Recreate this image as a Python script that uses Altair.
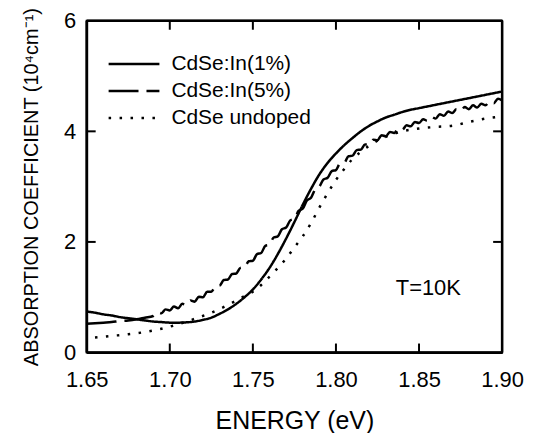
import altair as alt
import pandas as pd

# ---------------- data ----------------
series_names = ["CdSe:In(1%)", "CdSe:In(5%)", "CdSe undoped"]

e_1pct = [1.650, 1.655, 1.660, 1.665, 1.670, 1.675, 1.680, 1.685, 1.690, 1.695,
          1.700, 1.705, 1.710, 1.715, 1.720, 1.725, 1.730, 1.735, 1.740, 1.745,
          1.750, 1.755, 1.760, 1.765, 1.770, 1.775, 1.780, 1.785, 1.790, 1.795,
          1.800, 1.805, 1.810, 1.815, 1.820, 1.825, 1.830, 1.835, 1.840, 1.845,
          1.850, 1.855, 1.860, 1.865, 1.870, 1.875, 1.880, 1.885, 1.890, 1.895,
          1.900]
a_1pct = [0.74, 0.72, 0.69, 0.67, 0.64, 0.62, 0.60, 0.58, 0.56, 0.55,
          0.54, 0.54, 0.545, 0.56, 0.59, 0.63, 0.70, 0.78, 0.88, 1.00,
          1.14, 1.32, 1.53, 1.78, 2.06, 2.36, 2.67, 2.96, 3.22, 3.43,
          3.60, 3.75, 3.88, 4.00, 4.10, 4.18, 4.25, 4.30, 4.35, 4.39,
          4.42, 4.45, 4.48, 4.51, 4.54, 4.57, 4.60, 4.63, 4.66, 4.69,
          4.72]

e_5pct = [1.650, 1.655, 1.660, 1.665, 1.670, 1.675, 1.680, 1.685,
          1.690, 1.6925, 1.695, 1.6975, 1.700, 1.7025, 1.705, 1.7075, 1.710, 1.7125,
          1.715, 1.7175, 1.720, 1.7225, 1.725, 1.7275, 1.730, 1.7325, 1.735, 1.7375,
          1.740, 1.7425, 1.745, 1.7475, 1.750, 1.7525, 1.755, 1.7575, 1.760, 1.7625,
          1.765, 1.7675, 1.770, 1.7725, 1.775, 1.7775, 1.780, 1.7825, 1.785, 1.7875,
          1.790, 1.7925, 1.795, 1.7975, 1.800, 1.8025, 1.805, 1.8075, 1.810, 1.8125,
          1.815, 1.8175, 1.820, 1.8225, 1.825, 1.8275, 1.830, 1.8325, 1.835, 1.8375,
          1.840, 1.8425, 1.845, 1.8475, 1.850, 1.8525, 1.855, 1.8575, 1.860, 1.8625,
          1.865, 1.8675, 1.870, 1.8725, 1.875, 1.8775, 1.880, 1.8825, 1.885, 1.8875,
          1.890, 1.8925, 1.895, 1.8975, 1.900]
a_5pct = [0.52, 0.53, 0.54, 0.55, 0.57, 0.58, 0.60, 0.63,
          0.66, 0.73, 0.71, 0.78, 0.76, 0.83, 0.80, 0.88, 0.86, 0.94,
          0.92, 1.01, 1.00, 1.10, 1.10, 1.20, 1.21, 1.31, 1.32, 1.42,
          1.43, 1.53, 1.54, 1.65, 1.66, 1.78, 1.80, 1.93, 1.95, 2.08,
          2.10, 2.23, 2.26, 2.39, 2.42, 2.56, 2.60, 2.75, 2.80, 2.95,
          3.00, 3.13, 3.16, 3.28, 3.30, 3.42, 3.43, 3.55, 3.56, 3.66,
          3.67, 3.76, 3.76, 3.85, 3.84, 3.93, 3.91, 3.99, 3.97, 4.05,
          4.03, 4.11, 4.09, 4.17, 4.15, 4.22, 4.19, 4.26, 4.23, 4.31,
          4.28, 4.36, 4.33, 4.40, 4.37, 4.44, 4.40, 4.47, 4.43, 4.50,
          4.47, 4.54, 4.51, 4.59, 4.56]

e_undoped = [1.655, 1.665, 1.675, 1.685, 1.695, 1.705, 1.715, 1.725, 1.735, 1.745,
             1.750, 1.755, 1.760, 1.765, 1.770, 1.775, 1.780, 1.785, 1.790, 1.795,
             1.800, 1.805, 1.810, 1.815, 1.820, 1.830, 1.840, 1.850, 1.860, 1.870,
             1.880, 1.890, 1.900]
a_undoped = [0.27, 0.30, 0.33, 0.37, 0.43, 0.51, 0.61, 0.72, 0.86, 1.02,
             1.10, 1.22, 1.37, 1.53, 1.70, 1.90, 2.10, 2.34, 2.62, 2.88,
             3.12, 3.32, 3.50, 3.63, 3.74, 3.90, 4.00, 4.05, 4.08, 4.10,
             4.17, 4.23, 4.27]

x_ticks = [1.65, 1.70, 1.75, 1.80, 1.85, 1.90]
y_ticks = [0, 2, 4, 6]
x_inner_ticks = [1.70, 1.75, 1.80, 1.85]
y_inner_ticks = [2, 4]

annotation_text = "T=10K"
annotation_e = 1.8556
annotation_a = 1.17

# ---------------- build tables ----------------
rows = []
for name, es, as_ in [(series_names[0], e_1pct, a_1pct),
                      (series_names[1], e_5pct, a_5pct),
                      (series_names[2], e_undoped, a_undoped)]:
    for i, (e, a) in enumerate(zip(es, as_)):
        rows.append({"series": name, "E": e, "A": a, "order": i})
df = pd.DataFrame(rows)

X0, X1 = x_ticks[0], x_ticks[-1]
Y0, Y1 = y_ticks[0], y_ticks[-1]

xt_df = pd.DataFrame({"E": x_inner_ticks})
yt_df = pd.DataFrame({"A": y_inner_ticks})
hframe_df = pd.DataFrame({"Ea": [X0, X0], "Eb": [X1, X1], "A": [Y0, Y1]})
vframe_df = pd.DataFrame({"E": [X0, X1], "Aa": [Y0, Y0], "Ab": [Y1, Y1]})

FONT = "Liberation Sans"
W, H = 417, 333
TICK_A = 9 / H * (Y1 - Y0)   # 9 px inward tick, in data units
TICK_E = 9 / W * (X1 - X0)

x_scale = alt.Scale(domain=[X0, X1], nice=False, zero=False)
y_scale = alt.Scale(domain=[Y0, Y1], nice=False, zero=False)

lines = alt.Chart(df).mark_line(color="black", strokeWidth=2.5, strokeCap="butt",
                                interpolate="monotone").encode(
    x=alt.X("E:Q", scale=x_scale,
            axis=alt.Axis(title="ENERGY (eV)", values=x_ticks, format=".2f",
                          tickSize=0, domain=True, domainColor="black", domainWidth=2,
                          grid=False, labelFlush=False,
                          labelFontSize=22, labelPadding=17, labelColor="black",
                          titleFontSize=25, titleFontWeight="normal", titleColor="black",
                          titleBaseline="alphabetic", titleY=76)),
    y=alt.Y("A:Q", scale=y_scale,
            axis=alt.Axis(title="ABSORPTION COEFFICIENT (10\u2074cm\u207b\u00b9)",
                          values=y_ticks, format="d", labelFlush=False,
                          tickSize=0, domain=True, domainColor="black", domainWidth=2,
                          grid=False,
                          labelFontSize=22, labelPadding=11, labelColor="black",
                          titleFontSize=20, titleFontWeight="normal", titleColor="black",
                          titleBaseline="alphabetic", titleX=-49, titleAngle=270)),
    strokeDash=alt.StrokeDash(
        "series:N",
        scale=alt.Scale(domain=series_names, range=[[1, 0], [30, 8], [2.5, 8.5]]),
        legend=alt.Legend(title=None, orient="none", legendX=36, legendY=32,
                          symbolType="M-2.5,0L2.5,0", symbolSize=416,
                          symbolStrokeWidth=2.5, symbolStrokeColor="black",
                          labelFontSize=21, labelColor="black", labelOffset=26,
                          rowPadding=5, padding=0),
    ),
    detail="series:N",
    order="order:Q",
)

hframe = alt.Chart(hframe_df).mark_rule(color="black", strokeWidth=2.5).encode(
    x="Ea:Q", x2="Eb:Q", y="A:Q")
vframe = alt.Chart(vframe_df).mark_rule(color="black", strokeWidth=2.5).encode(
    x="E:Q", y="Aa:Q", y2="Ab:Q")

tick_bottom = alt.Chart(xt_df).mark_rule(color="black", strokeWidth=2).encode(
    x="E:Q", y=alt.datum(Y0), y2=alt.datum(Y0 + TICK_A))
tick_top = alt.Chart(xt_df).mark_rule(color="black", strokeWidth=2).encode(
    x="E:Q", y=alt.datum(Y1), y2=alt.datum(Y1 - TICK_A))
tick_left = alt.Chart(yt_df).mark_rule(color="black", strokeWidth=2).encode(
    y="A:Q", x=alt.datum(X0), x2=alt.datum(X0 + TICK_E))
tick_right = alt.Chart(yt_df).mark_rule(color="black", strokeWidth=2).encode(
    y="A:Q", x=alt.datum(X1), x2=alt.datum(X1 - TICK_E))

label = alt.Chart(pd.DataFrame({"t": [annotation_text]})).mark_text(
    fontSize=22, color="black", align="center", baseline="middle", font=FONT
).encode(x=alt.datum(annotation_e), y=alt.datum(annotation_a), text="t:N")

chart = alt.layer(lines, hframe, vframe, tick_bottom, tick_top, tick_left, tick_right,
                  label).properties(
    width=W, height=H,
    autosize="none",
    padding={"left": 79, "top": 12, "right": 30, "bottom": 80},
).configure(font=FONT).configure_view(
    stroke="black", strokeWidth=2
).configure_axis(labelFont=FONT, titleFont=FONT).configure_legend(
    labelFont=FONT
)

chart.save("out.html", embed_options={"renderer": "svg", "actions": False})
